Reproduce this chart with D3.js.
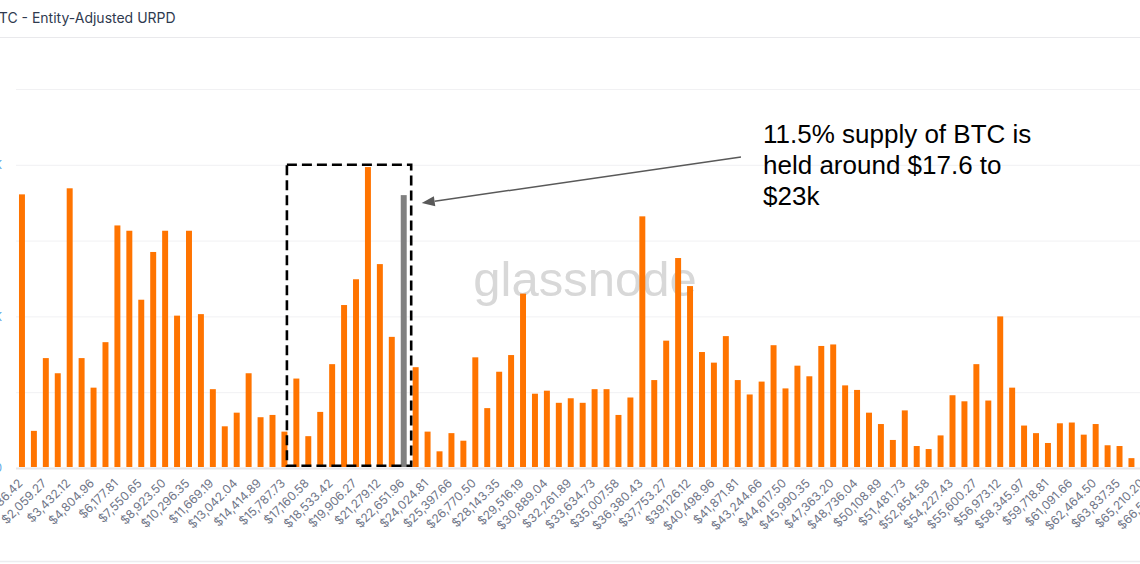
<!DOCTYPE html>
<html><head><meta charset="utf-8">
<script src="https://cdn.jsdelivr.net/npm/d3@7"></script>
<style>html,body{margin:0;padding:0;background:#fff;overflow:hidden}svg{display:block}</style>
</head><body><svg id="c" width="1140" height="564"></svg>
<script>
// price bins (x categories)
const categories = ["$686.42","$1,372.85","$2,059.27","$2,745.69","$3,432.12","$4,118.54","$4,804.96","$5,491.39","$6,177.81","$6,864.23",
"$7,550.65","$8,237.08","$8,923.50","$9,609.92","$10,296.35","$10,982.77","$11,669.19","$12,355.62","$13,042.04","$13,728.46",
"$14,414.89","$15,101.31","$15,787.73","$16,474.16","$17,160.58","$17,847.00","$18,533.42","$19,219.85","$19,906.27","$20,592.69",
"$21,279.12","$21,965.54","$22,651.96","$23,338.39","$24,024.81","$24,711.23","$25,397.66","$26,084.08","$26,770.50","$27,456.93",
"$28,143.35","$28,829.77","$29,516.19","$30,202.62","$30,889.04","$31,575.46","$32,261.89","$32,948.31","$33,634.73","$34,321.16",
"$35,007.58","$35,694.00","$36,380.43","$37,066.85","$37,753.27","$38,439.70","$39,126.12","$39,812.54","$40,498.96","$41,185.39",
"$41,871.81","$42,558.23","$43,244.66","$43,931.08","$44,617.50","$45,303.93","$45,990.35","$46,676.77","$47,363.20","$48,049.62",
"$48,736.04","$49,422.47","$50,108.89","$50,795.31","$51,481.73","$52,168.16","$52,854.58","$53,541.00","$54,227.43","$54,913.85",
"$55,600.27","$56,286.70","$56,973.12","$57,659.54","$58,345.97","$59,032.39","$59,718.81","$60,405.24","$61,091.66","$61,778.08",
"$62,464.50","$63,150.93","$63,837.35","$64,523.77","$65,210.20","$65,896.62","$66,583.05"];
// x tick labels (every other bin)
const tickLabels = ["$686.42","$2,059.27","$3,432.12","$4,804.96","$6,177.81","$7,550.65","$8,923.50","$10,296.35","$11,669.19","$13,042.04",
"$14,414.89","$15,787.73","$17,160.58","$18,533.42","$19,906.27","$21,279.12","$22,651.96","$24,024.81","$25,397.66","$26,770.50",
"$28,143.35","$29,516.19","$30,889.04","$32,261.89","$33,634.73","$35,007.58","$36,380.43","$37,753.27","$39,126.12","$40,498.96",
"$41,871.81","$43,244.66","$44,617.50","$45,990.35","$47,363.20","$48,736.04","$50,108.89","$51,481.73","$52,854.58","$54,227.43",
"$55,600.27","$56,973.12","$58,345.97","$59,718.81","$61,091.66","$62,464.50","$63,837.35","$65,210.20","$66,583.05"];
// supply held in each bin (thousand BTC, estimated)
const supply = [361,49,145,125,369,145,106,166,320,313,
222,285,313,201,313,203,104,55,73,125,
67,70,48,118,42,74,137,215,249,397,
269,173,360,133,48,22,46,36,146,79,
127,149,230,98,102,86,92,86,104,104,
70,93,332,116,168,277,240,153,139,174,
116,97,114,162,105,135,121,161,163,109,
103,73,58,37,76,29,25,43,96,88,
137,89,200,106,56,46,33,59,60,44,
58,30,29,13];
const highlightBin = "$22,651.96";
const gridValues = [0,100,200,300,400,500];
const yTickValues = [0,200,400];
const yTickLabels = ["0","200K","400K"];
const titleText = "BTC - Entity-Adjusted URPD";
const noteLines = ["11.5% supply of BTC is","held around $17.6 to","$23k"];
const boxFrom = "$15,787.73", boxTo = "$22,651.96";

const svg = d3.select("#c");
svg.append("rect").attr("width",1140).attr("height",564).attr("fill","#fff");

const x = d3.scaleBand().domain(categories).range([16, 16 + categories.length*11.93]).paddingInner(0.5).paddingOuter(0.25);
const y = d3.scaleLinear().domain([0,500]).range([468,89]);

// title
svg.append("text").attr("x",-9.6).attr("y",23).text(titleText)
  .attr("font-family","Inter, 'Noto Sans', sans-serif").attr("font-size",14).attr("fill","#2f3a4f");
svg.append("line").attr("x1",0).attr("x2",1140).attr("y1",37.5).attr("y2",37.5).attr("stroke","#e9e9ec");
svg.append("line").attr("x1",0).attr("x2",1140).attr("y1",561.5).attr("y2",561.5).attr("stroke","#ececef").attr("stroke-width",1.5);

// grid
svg.append("g").selectAll("line").data(gridValues).join("line")
  .attr("x1",16).attr("x2",1140).attr("y1",d=>y(d)+0.5).attr("y2",d=>y(d)+0.5)
  .attr("stroke",d=>d===0?"#e6e6e9":"#f1f1f3").attr("stroke-width",d=>d===0?2:1);

// y labels (mostly off-canvas)
svg.append("g").selectAll("text").data(yTickValues).join("text")
  .attr("x",2).attr("y",d=>y(d)).attr("dy","0.35em").attr("text-anchor","end")
  .attr("font-family","Inter, sans-serif").attr("font-size",12).attr("fill","#5fa8e6")
  .text((d,i)=>yTickLabels[i]);

// watermark
svg.append("text").attr("x",585).attr("y",296).attr("text-anchor","middle")
  .attr("font-family","'Liberation Sans', Arial, sans-serif").attr("font-size",49)
  .attr("fill","#d8d8d8").text("glassnode");

// bars
svg.append("g").selectAll("rect").data(supply).join("rect")
  .attr("x",(d,i)=>x(categories[i])).attr("width",x.bandwidth())
  .attr("y",d=>y(d)).attr("height",d=>y(0)-y(d)-1)
  .attr("fill",(d,i)=>categories[i]===highlightBin?"#808080":"#ff7400");

// x labels
const axisG = svg.append("g");
axisG.selectAll("text").data(tickLabels).join("text")
  .attr("transform",d=>`translate(${x(d)+x.bandwidth()/2+1.5},${484}) rotate(-45)`)
  .attr("text-anchor","end")
  .attr("font-family","Inter, 'Noto Sans', sans-serif").attr("font-size",12)
  .attr("fill","#6f7587").text(d=>d);

// dashed box
const bx0 = x(boxFrom) + x.bandwidth() - 0.5;
const bx1 = x(boxTo) + x.bandwidth()*1.5 + 1.5;
svg.append("rect").attr("x",bx0).attr("y",y(400)).attr("width",bx1-bx0).attr("height",y(3)-y(400))
  .attr("fill","none").attr("stroke","#000").attr("stroke-width",2.6).attr("stroke-dasharray","10,5");

// annotation
const note = svg.append("text").attr("font-family","'Liberation Sans', Arial, sans-serif")
  .attr("font-size",26).attr("fill","#000");
noteLines.forEach((t,i)=>note.append("tspan").attr("x",763).attr("y",143+i*31).text(t));

// arrow
const hv = supply[categories.indexOf(highlightBin)];
const tipX = x(highlightBin) + x.bandwidth() + 15, tipY = y(hv) + 8;
const sx = 741, sy = 157;
const ang = Math.atan2(tipY-sy, tipX-sx);
const L = 13, W = 5;
const bxp = tipX - L*Math.cos(ang), byp = tipY - L*Math.sin(ang);
svg.append("line").attr("x1",sx).attr("y1",sy).attr("x2",bxp).attr("y2",byp).attr("stroke","#595959").attr("stroke-width",1.5);
svg.append("path").attr("d",`M${tipX},${tipY}L${bxp - W*Math.sin(ang)},${byp + W*Math.cos(ang)}L${bxp + W*Math.sin(ang)},${byp - W*Math.cos(ang)}Z`).attr("fill","#595959");
</script></body></html>
